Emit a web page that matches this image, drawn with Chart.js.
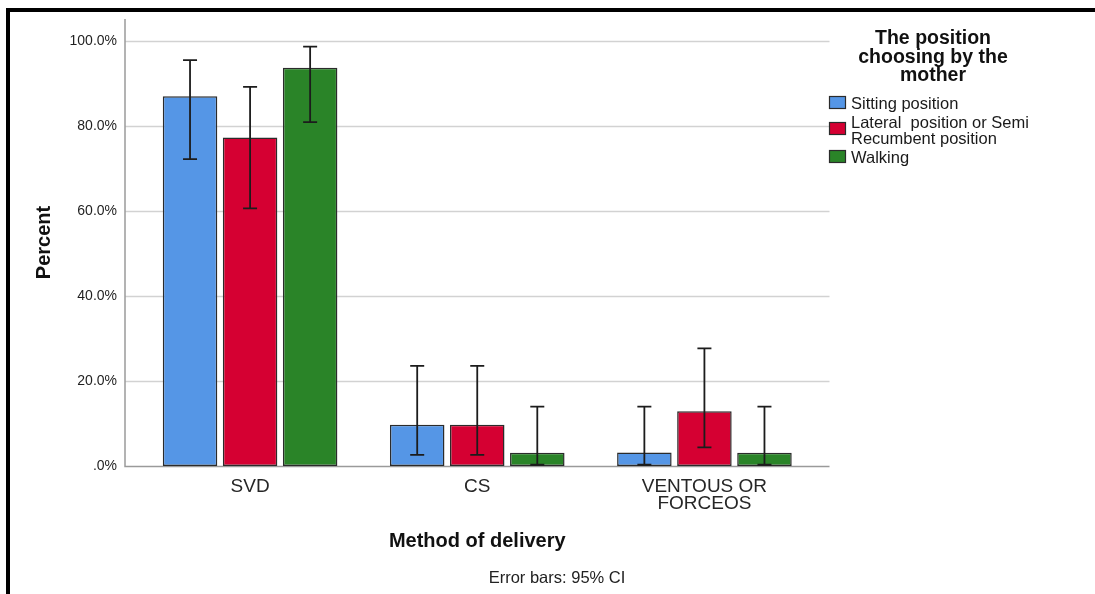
<!DOCTYPE html>
<html>
<head>
<meta charset="utf-8">
<script src="https://cdn.jsdelivr.net/npm/chart.js@4/dist/chart.umd.min.js"></script>
<style>
  html, body { margin: 0; padding: 0; background: #fff; }
  canvas { display: block; }
</style>
</head>
<body>
<canvas id="chart" width="1095" height="594"></canvas>
<script>
// Delivery method by the birthing position the mother chose (percent within each position)
const categories = ['SVD', 'CS', ['VENTOUS OR', 'FORCEOS']];
const seriesNames = ['Sitting position', ['Lateral  position or Semi', 'Recumbent position'], 'Walking'];
const legendTitle = ['The position', 'choosing by the', 'mother'];

const sittingPct = [87.1, 9.7, 3.2];
const lateralPct = [77.4, 9.7, 12.9];
const walkingPct = [93.8, 3.1, 3.1];

// 95% confidence limits
const sittingLow = [72.3, 2.6, 0.3];
const sittingHigh = [95.6, 23.6, 14.0];
const lateralLow = [60.7, 2.6, 4.4];
const lateralHigh = [89.3, 23.6, 27.7];
const walkingLow = [81.0, 0.3, 0.3];
const walkingHigh = [98.8, 14.0, 14.0];

const yTicks = [0, 20, 40, 60, 80, 100];

const seriesColors = ['#5596e6', '#d50032', '#2a8428'];
const FONT = "'Liberation Sans', Arial, Helvetica, sans-serif";

const values = [sittingPct, lateralPct, walkingPct];
const lows = [sittingLow, lateralLow, walkingLow];
const highs = [sittingHigh, lateralHigh, walkingHigh];

// Axis frame and gridlines run a little past the category band on both sides
const FRAME_PAD = 11.5;

const framePlugin = {
  id: 'frame',
  beforeDatasetsDraw(chart) {
    const ctx = chart.ctx;
    const area = chart.chartArea;
    const y = chart.scales.y;
    const l = area.left - FRAME_PAD, r = area.right + FRAME_PAD;
    ctx.save();
    ctx.lineWidth = 1.5;
    yTicks.forEach(v => {
      if (v === 0) return;
      const py = Math.round(y.getPixelForValue(v)) + 0.5;
      ctx.strokeStyle = '#d2d2d2';
      ctx.beginPath(); ctx.moveTo(l, py); ctx.lineTo(r, py); ctx.stroke();
    });
    // value axis and baseline
    const by = Math.round(y.getPixelForValue(0)) + 0.5;
    ctx.strokeStyle = '#9a9a9a';
    ctx.beginPath();
    ctx.moveTo(l, area.top);
    ctx.lineTo(l, by);
    ctx.lineTo(r, by);
    ctx.stroke();
    ctx.restore();
  }
};

const errorBarPlugin = {
  id: 'errorBars',
  afterDatasetsDraw(chart) {
    const ctx = chart.ctx;
    const y = chart.scales.y;
    const cap = 7;
    ctx.save();
    ctx.strokeStyle = '#1c1c1c';
    ctx.lineWidth = 1.8;
    chart.data.datasets.forEach((ds, i) => {
      const meta = chart.getDatasetMeta(i);
      meta.data.forEach((bar, j) => {
        const x = bar.x;
        const yHi = y.getPixelForValue(highs[i][j]);
        const yLo = y.getPixelForValue(lows[i][j]);
        ctx.beginPath();
        ctx.moveTo(x, yHi); ctx.lineTo(x, yLo);
        ctx.moveTo(x - cap, yHi); ctx.lineTo(x + cap, yHi);
        ctx.moveTo(x - cap, yLo); ctx.lineTo(x + cap, yLo);
        ctx.stroke();
      });
    });
    ctx.restore();
  }
};

const annotationsPlugin = {
  id: 'annotations',
  afterDraw(chart) {
    const ctx = chart.ctx;
    const area = chart.chartArea;
    ctx.save();

    // page frame
    ctx.fillStyle = '#000';
    ctx.fillRect(6, 8, 1095, 4);
    ctx.fillRect(6, 8, 4, 594);

    // axis titles
    ctx.fillStyle = '#111';
    ctx.font = 'bold 20px ' + FONT;
    ctx.textAlign = 'center';
    ctx.textBaseline = 'alphabetic';
    ctx.fillText('Method of delivery', (area.left + area.right) / 2, 547);

    ctx.save();
    ctx.translate(50, (area.top + area.bottom) / 2);
    ctx.rotate(-Math.PI / 2);
    ctx.fillText('Percent', 0, 0);
    ctx.restore();

    // footnote
    ctx.font = '16.5px ' + FONT;
    ctx.fillStyle = '#222';
    ctx.fillText('Error bars: 95% CI', 557, 583);

    // legend
    ctx.font = 'bold 19.5px ' + FONT;
    ctx.fillStyle = '#111';
    legendTitle.forEach((t, k) => ctx.fillText(t, 933, 44 + k * 18.5));

    const swatchY = [96, 122, 150];
    const textY = [[109], [128, 143.5], [163]];
    ctx.textAlign = 'left';
    ctx.font = '16.5px ' + FONT;
    chart.data.datasets.forEach((ds, i) => {
      ctx.fillStyle = seriesColors[i];
      ctx.fillRect(829, swatchY[i], 17, 13);
      ctx.strokeStyle = '#2b2b2b';
      ctx.lineWidth = 1.2;
      ctx.strokeRect(829.5, swatchY[i] + 0.5, 16, 12);
      ctx.fillStyle = '#1a1a1a';
      const lines = Array.isArray(seriesNames[i]) ? seriesNames[i] : [seriesNames[i]];
      lines.forEach((ln, k) => ctx.fillText(ln, 851, textY[i][k]));
    });
    ctx.restore();
  }
};

new Chart(document.getElementById('chart'), {
  type: 'bar',
  data: {
    labels: categories,
    datasets: values.map((v, i) => ({
      label: Array.isArray(seriesNames[i]) ? seriesNames[i].join(' ') : seriesNames[i],
      data: v,
      backgroundColor: seriesColors[i],
      borderColor: '#2b2b2b',
      borderWidth: 1.5,
      borderSkipped: false,
      categoryPercentage: 0.793,
      barPercentage: 0.908
    }))
  },
  options: {
    responsive: false,
    animation: false,
    devicePixelRatio: 1,
    layout: { padding: { left: 0, top: 19, right: 277, bottom: 0 } },
    plugins: {
      legend: { display: false },
      tooltip: { enabled: false }
    },
    scales: {
      x: {
        grid: { display: false },
        border: { display: false },
        ticks: {
          color: '#262626',
          font: { family: FONT, size: 19, lineHeight: '17px' },
          padding: 4,
          maxRotation: 0,
          autoSkip: false
        },
        afterFit(scale) { scale.height = 128; }
      },
      y: {
        min: 0,
        max: 105.3,
        grid: { display: false, drawTicks: false },
        border: { display: false },
        afterBuildTicks(scale) { scale.ticks = yTicks.map(v => ({ value: v })); },
        ticks: {
          color: '#1f1f1f',
          font: { family: FONT, size: 14 },
          padding: 19.5,
          callback: v => (v === 0 ? '.0%' : v.toFixed(1) + '%')
        },
        afterFit(scale) {
          scale.width = 136.5;
          scale.paddingTop = 0;
          scale.paddingBottom = 0;
        }
      }
    }
  },
  plugins: [framePlugin, errorBarPlugin, annotationsPlugin]
});
</script>
</body>
</html>
